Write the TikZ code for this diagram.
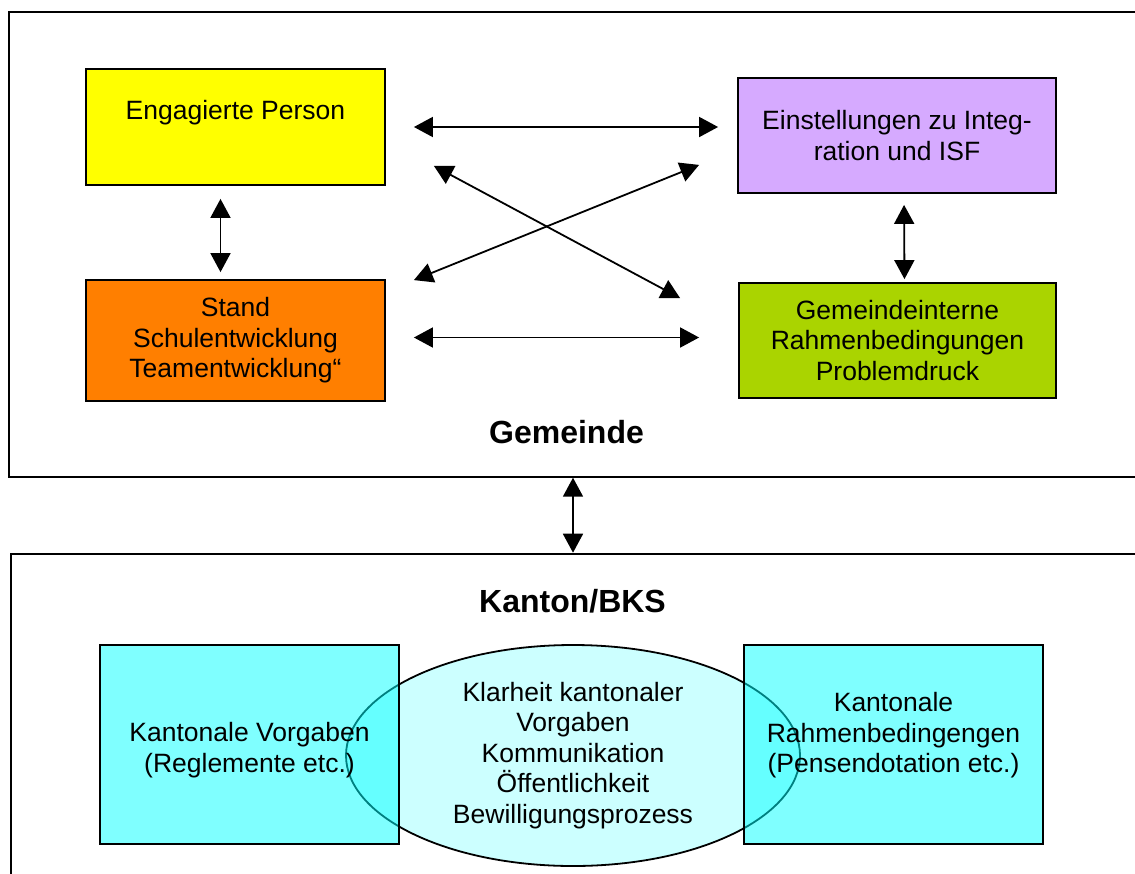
\documentclass[tikz,border=0pt]{standalone}
\usepackage{fontspec}
\setmainfont{Liberation Sans}
\usetikzlibrary{shapes.geometric,arrows.meta}

\definecolor{persyellow}{HTML}{FFFF00}
\definecolor{standorange}{HTML}{FF7F00}
\definecolor{einstlilac}{HTML}{D6AAFF}
\definecolor{rahmengreen}{HTML}{AAD400}
\definecolor{kantcyan}{HTML}{00FFFF}
\definecolor{ellcyan}{HTML}{CCFFFF}

\begin{document}
\begin{tikzpicture}[x=1pt,y=-1pt,
    every node/.style={font=\fontsize{26.5}{30.5}\selectfont},
    box/.style={draw, line width=1.8pt, align=center, inner sep=0pt},
    frame/.style={draw, line width=2pt, inner sep=0pt},
    title/.style={font=\fontsize{32}{36}\selectfont\bfseries},
    >={Triangle[length=19pt,width=20pt]},
    arr/.style={<->, line width=1.8pt}]

\useasboundingbox (0,0) rectangle (1135,873);

% Gemeinde
\node[frame, minimum width=1140pt, minimum height=465pt] (gemeinde) at (579,244.2) {};
\node[box, fill=persyellow, minimum width=299pt, minimum height=116pt, text depth=35pt] (eng) at (235.5,127) {Engagierte Person};
\node[box, fill=standorange, minimum width=299pt, minimum height=121pt] (stand) at (235.5,340.5) {Stand\\Schulentwicklung\\Teamentwicklung“};
\node[box, fill=einstlilac, minimum width=318pt, minimum height=115pt] (einst) at (897,135.5) {Einstellungen zu Integ-\\ration und ISF};
\node[box, fill=rahmengreen, minimum width=317pt, minimum height=115pt] (gem) at (897.5,340.5) {Gemeindeinterne\\Rahmenbedingungen\\Problemdruck};
\node[title] (gemtitle) at (566.5,432) {Gemeinde};

\draw[arr, shorten <=13pt, shorten >=7pt] ([xshift=-15pt]eng.south) -- ([xshift=-15pt]stand.north);
\draw[arr, shorten <=11pt, shorten >=3pt] ([xshift=7pt]einst.south) -- ([xshift=7pt]gem.north);
\draw[arr, shorten <=28pt, shorten >=19pt] (eng.east) -- (eng.east -| einst.west);
\draw[arr, shorten <=28pt, shorten >=39pt] ([yshift=3pt]stand.east) -- ([yshift=3pt]stand.east -| gem.west);
\draw[arr] ([shift={(48,-20)}]eng.south east) -- ([shift={(-58,16)}]gem.north west);
\draw[arr] ([shift={(28,1)}]stand.north east) -- ([shift={(-38,-29)}]einst.south west);

% Kanton
\node[frame, minimum width=1140pt, minimum height=346.3pt] (kanton) at (581,726.85) {};
\node[title] (kantitle) at (572.5,601) {Kanton/BKS};
\node[ellipse, draw, line width=1.8pt, fill=ellcyan, minimum width=454pt, minimum height=221pt, align=center, inner sep=0pt] (ell) at (573,755.5)
    {Klarheit kantonaler\\Vorgaben\\Kommunikation\\Öffentlichkeit\\Bewilligungsprozess};
\node[box, fill=kantcyan, fill opacity=0.5, text opacity=1, minimum width=299pt, minimum height=199pt, text height=61pt] (vorg) at (249.5,744.5) {Kantonale Vorgaben\\(Reglemente etc.)};
\node[box, fill=kantcyan, fill opacity=0.5, text opacity=1, minimum width=299pt, minimum height=199pt, text depth=24pt] (rahm) at (893.5,744.5) {Kantonale\\Rahmenbedingengen\\(Pensendotation etc.)};

\draw[arr] (gemeinde.south -| ell.north) -- (kanton.north -| ell.north);
\end{tikzpicture}
\end{document}
